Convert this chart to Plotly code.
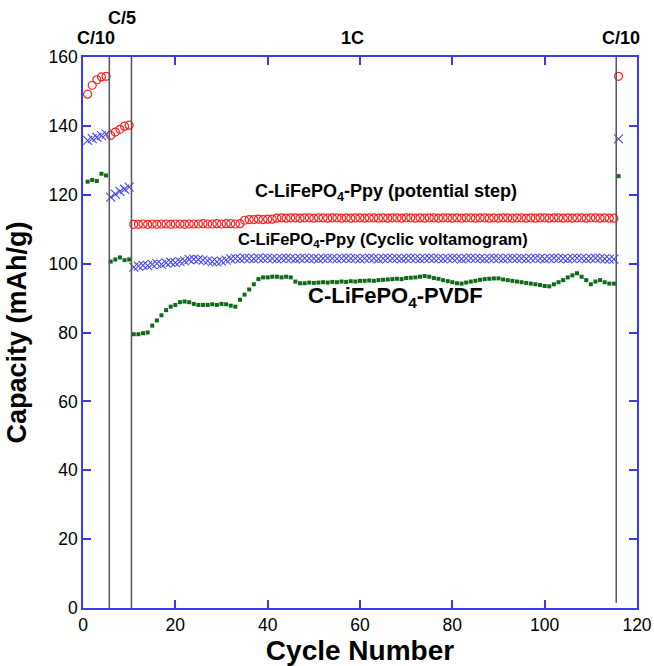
import plotly.graph_objects as go

# ---------------- data ----------------
cycles_c10a = [1, 2, 3, 4, 5]
cycles_c5 = [6, 7, 8, 9, 10]
cycles_1c = list(range(11, 116))
cycles_c10b = [116]

ps_c10a = [149.2, 151.8, 153.4, 154.2, 154.4]
ps_c5 = [137.2, 138.2, 139.0, 139.9, 140.2]
ps_1c = [111.4, 111.4, 111.5, 111.4, 111.5, 111.4, 111.5, 111.5, 111.4, 111.5,
         111.5, 111.4, 111.5, 111.5, 111.5, 111.6, 111.5, 111.5, 111.6, 111.5,
         111.6, 111.6, 111.5, 111.6,
         112.6, 112.8, 112.8, 112.9, 112.8, 112.9, 112.9,
         113.2, 113.3, 113.2, 113.3, 113.3, 113.2, 113.3, 113.3, 113.2, 113.3,
         113.3, 113.2, 113.3, 113.3, 113.2, 113.3, 113.2, 113.3, 113.3, 113.2,
         113.3, 113.3, 113.2, 113.3, 113.2, 113.3, 113.3, 113.2, 113.3, 113.3,
         113.2, 113.3, 113.2, 113.3, 113.3, 113.2, 113.3, 113.3, 113.2, 113.3,
         113.2, 113.3, 113.3, 113.2, 113.3, 113.3, 113.2, 113.3, 113.2, 113.3,
         113.3, 113.2, 113.3, 113.3, 113.2, 113.3, 113.2, 113.3, 113.3, 113.2,
         113.3, 113.3, 113.2, 113.3, 113.2, 113.3, 113.3, 113.2, 113.3, 113.3,
         113.2, 113.3, 113.2, 113.2]
ps_c10b = [154.4]

cv_c10a = [135.8, 136.3, 136.7, 137.2, 137.6]
cv_c5 = [119.3, 120.2, 121.0, 121.6, 122.2]
cv_1c = [99.0, 99.3, 99.5, 99.4, 99.8, 100.0, 99.8, 100.2, 100.4, 100.3,
         100.6, 100.8, 101.2, 101.3, 101.2, 101.0, 100.8, 100.6, 100.5, 100.7,
         101.0, 101.4, 101.5, 101.4, 101.6, 101.5, 101.4, 101.6, 101.5, 101.6,
         101.5, 101.4, 101.5, 101.6, 101.5, 101.4, 101.5, 101.6, 101.5, 101.5,
         101.4, 101.5, 101.6, 101.5, 101.4, 101.5, 101.6, 101.5, 101.5, 101.4,
         101.5, 101.6, 101.5, 101.4, 101.5, 101.6, 101.5, 101.5, 101.4, 101.5,
         101.6, 101.5, 101.4, 101.5, 101.6, 101.5, 101.5, 101.4, 101.5, 101.6,
         101.5, 101.4, 101.5, 101.6, 101.5, 101.5, 101.4, 101.5, 101.6, 101.5,
         101.4, 101.5, 101.6, 101.5, 101.5, 101.4, 101.5, 101.6, 101.5, 101.4,
         101.5, 101.6, 101.5, 101.5, 101.4, 101.5, 101.6, 101.5, 101.4, 101.5,
         101.6, 101.5, 101.4, 101.3, 101.3]
cv_c10b = [136.2]

pv_c10a = [123.8, 124.3, 124.0, 126.1, 125.6]
pv_c5 = [100.6, 101.2, 101.8, 101.0, 101.2]
pv_1c = [79.5, 79.5, 79.8, 80.0, 82.0, 83.5, 85.0, 86.5, 87.5, 88.0,
         88.8, 89.0, 88.8, 88.3, 88.0, 88.0, 88.0, 88.2, 88.0, 88.3,
         88.2, 87.8, 87.5, 89.5, 91.0, 92.5, 94.0, 95.5, 96.0, 96.0,
         96.2, 96.2, 96.0, 96.2, 96.0, 94.8, 94.3, 94.3, 94.5, 94.4,
         94.5, 94.6, 94.5, 94.7, 94.6, 94.8, 94.7, 94.9, 94.8, 95.0,
         95.0, 95.1, 95.0, 95.2, 95.3, 95.4, 95.5, 95.6, 95.5, 95.8,
         95.9, 96.0, 96.2, 96.4, 96.2, 95.8, 95.6, 95.2, 94.9, 94.6,
         94.3, 94.2, 94.5, 94.8, 95.0, 95.3, 95.5, 95.6, 95.7, 95.7,
         95.4, 95.2, 95.0, 94.8, 94.6, 94.4, 94.2, 94.0, 93.8, 93.5,
         93.4, 94.0, 94.6, 95.2, 96.0, 96.6, 97.2, 96.2, 95.2, 94.0,
         94.8, 95.2, 94.6, 94.2, 94.2]
pv_c10b = [125.4]

rate_boundaries = [5.7, 10.5, 115.5]
rate_labels = ["C/10", "C/5", "1C", "C/10"]
x_ticks = [0, 20, 40, 60, 80, 100, 120]
y_ticks = [0, 20, 40, 60, 80, 100, 120, 140, 160]

x_all = cycles_c10a + cycles_c5 + cycles_1c + cycles_c10b
ps = ps_c10a + ps_c5 + ps_1c + ps_c10b
cv = cv_c10a + cv_c5 + cv_1c + cv_c10b
pv = pv_c10a + pv_c5 + pv_1c + pv_c10b

fig = go.Figure()
fig.add_trace(go.Scatter(x=x_all, y=ps, mode="markers",
                         marker=dict(symbol="circle-open", size=8, color="#ff2020",
                                     line=dict(width=1.2, color="#ff2020"))))
fig.add_trace(go.Scatter(x=x_all, y=cv, mode="markers",
                         marker=dict(symbol="x-thin-open", size=9, color="#4a4af0",
                                     line=dict(width=1.1, color="#4a4af0"))))
fig.add_trace(go.Scatter(x=x_all, y=pv, mode="markers",
                         marker=dict(symbol="square", size=4, color="#0e6a16")))

for b in rate_boundaries:
    fig.add_shape(type="line", x0=b, x1=b, y0=0 if b < 100 else 1.5, y1=160,
                  xref="x", yref="y", line=dict(color="#555555", width=1.5))

BOLD = "Liberation Sans, Arial, sans-serif"
ann = [
    dict(x=65.7, y=120.8, text="C-LiFePO<sub>4</sub>-Ppy (potential step)", size=18),
    dict(x=65.0, y=106.8, text="C-LiFePO<sub>4</sub>-Ppy (Cyclic voltamogram)", size=16.5),
    dict(x=67.6, y=90.4, text="C-LiFePO<sub>4</sub>-PVDF", size=22),
]
for a in ann:
    fig.add_annotation(x=a["x"], y=a["y"], xref="x", yref="y", showarrow=False,
                       xanchor="center", yanchor="middle",
                       text="<b>" + a["text"] + "</b>",
                       font=dict(family=BOLD, size=a["size"], color="black"))

top_pos = [(2.8, 1.0345), (8.55, 1.07), (58.3, 1.0345), (116.5, 1.0345)]
for lbl, (px, py) in zip(rate_labels, top_pos):
    fig.add_annotation(x=px, y=py, xref="x", yref="paper", showarrow=False,
                       xanchor="center", yanchor="middle",
                       text="<b>" + lbl + "</b>",
                       font=dict(family=BOLD, size=18, color="black"))

axis_common = dict(showline=True, linecolor="#3a3af5", linewidth=1.5, mirror="ticks",
                   ticks="inside", tickcolor="#3a3af5", ticklen=8, tickwidth=1.5,
                   showgrid=False, zeroline=False, automargin=False,
                   tickfont=dict(family="Liberation Sans, Arial", size=17.5, color="black"))

fig.update_xaxes(range=[0, 120], tickvals=x_ticks, **axis_common,
                 title=dict(text="<b>Cycle Number</b>", standoff=6,
                            font=dict(family=BOLD, size=28, color="black")))
fig.update_yaxes(range=[0, 160], tickvals=y_ticks, **axis_common,
                 title=dict(text="<b>Capacity (mAh/g)</b>", standoff=14,
                            font=dict(family=BOLD, size=27, color="black")))

fig.update_layout(width=654, height=666, showlegend=False,
                  margin=dict(l=83, r=17, t=57, b=58, autoexpand=False),
                  plot_bgcolor="white", paper_bgcolor="white")

fig.write_html("out.html")
